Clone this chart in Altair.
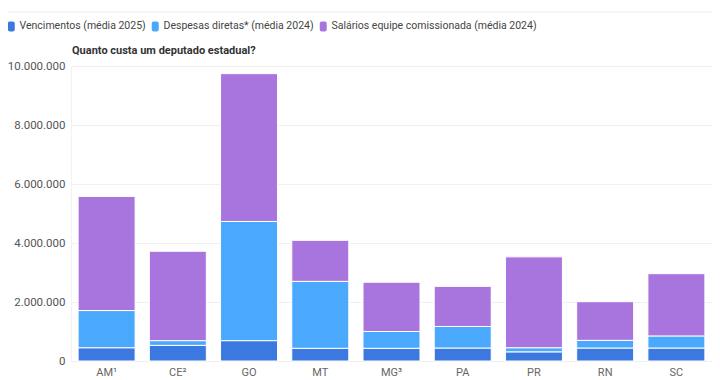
import altair as alt
import pandas as pd

estados = ["AM¹", "CE²", "GO", "MT", "MG³", "PA", "PR", "RN", "SC"]
vencimentos = [450000, 530000, 690000, 430000, 430000, 440000, 310000, 440000, 440000]
despesas = [1260000, 160000, 4040000, 2270000, 570000, 730000, 140000, 260000, 410000]
salarios = [3870000, 3030000, 5010000, 1390000, 1670000, 1360000, 3080000, 1310000, 2110000]

series = ["Vencimentos (média 2025)", "Despesas diretas* (média 2024)",
          "Salários equipe comissionada (média 2024)"]
colors = ["#3b78e0", "#4aa8fd", "#a874de"]
titulo = "Quanto custa um deputado estadual?"

rows = []
for i, e in enumerate(estados):
    for k, vals in enumerate([vencimentos, despesas, salarios]):
        rows.append({"estado": e, "serie": series[k], "valor": vals[i], "ord": k})
df = pd.DataFrame(rows)

FONT = "Roboto"
rr = ("M-0.3,-1 H0.3 A0.4,0.4 0 0 1 0.7,-0.6 V0.6 A0.4,0.4 0 0 1 0.3,1 "
      "H-0.3 A0.4,0.4 0 0 1 -0.7,0.6 V-0.6 A0.4,0.4 0 0 1 -0.3,-1 Z")

bars = alt.Chart(df).mark_bar(stroke="white", strokeWidth=1).encode(
    x=alt.X("estado:N", sort=estados, title=None,
            scale=alt.Scale(paddingInner=0.2, paddingOuter=0.1),
            axis=alt.Axis(labelAngle=0, ticks=False, domain=False, labelPadding=5,
                          labelFont=FONT, labelFontSize=11, labelColor="#666")),
    y=alt.Y("valor:Q", stack="zero", title=None,
            scale=alt.Scale(domain=[0, 10000000]),
            axis=alt.Axis(values=[0, 2000000, 4000000, 6000000, 8000000, 10000000],
                          labelExpr="replace(format(datum.value, ','), /,/g, '.')",
                          ticks=False, domain=True, domainColor="#f2f2f2",
                          labelPadding=6,
                          gridColor="#f0f0f0", labelFont=FONT, labelFontSize=11.5,
                          labelColor="#555")),
    color=alt.Color("serie:N", sort=series,
                    scale=alt.Scale(domain=series, range=colors),
                    legend=alt.Legend(title=None, orient="none", direction="horizontal",
                                      legendX=-65, legendY=-45, symbolType=rr,
                                      symbolSize=100, symbolStrokeWidth=0,
                                      symbolOpacity=1, labelFont=FONT,
                                      labelFontSize=10.5, labelColor="#444",
                                      labelLimit=0, columnPadding=4, labelOffset=3)),
    order=alt.Order("ord:Q", sort="ascending"),
)

sep = alt.Chart(pd.DataFrame({"a": [0]})).mark_rule(color="#eeeeee", strokeWidth=1).encode(
    x=alt.value(-63), x2=alt.value(641), y=alt.value(-54)
)

title_mark = alt.Chart(pd.DataFrame({"t": [titulo]})).mark_text(
    align="left", baseline="alphabetic", font=FONT, fontSize=11, fontWeight="bold",
    color="#333"
).encode(text="t:N", x=alt.value(1), y=alt.value(-12))

chart = alt.layer(sep, bars, title_mark).properties(
    width=641, height=295,
    autosize=alt.AutoSizeParams(type="none"),
    padding={"left": 63, "top": 58, "right": 0, "bottom": 22},
).configure_view(stroke=None)

chart.save("out.html", embed_options={"renderer": "svg", "actions": False})
